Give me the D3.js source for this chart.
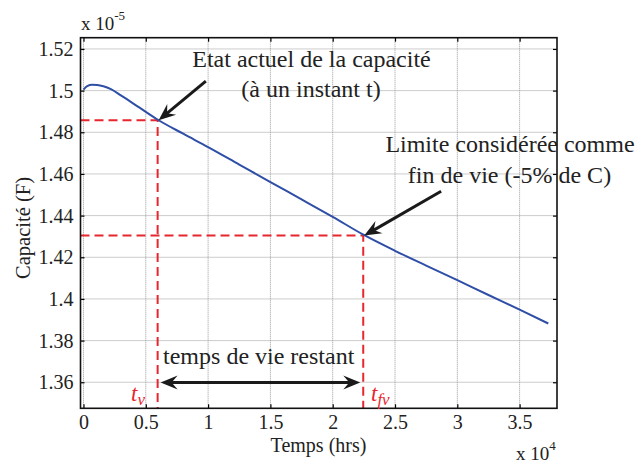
<!DOCTYPE html>
<html>
<head>
<meta charset="utf-8">
<script src="https://cdn.jsdelivr.net/npm/d3@7"></script>
<style>
  html, body { margin: 0; padding: 0; background: #fff; }
  svg { display: block; font-family: "Liberation Serif", "Times New Roman", serif; }
</style>
</head>
<body>
<svg id="chart" width="637" height="464"></svg>
<script>
// ---- data (time in 1e4 hrs, capacitance in 1e-5 F) ----
const timeHrs = [0, 0.03, 0.07, 0.11, 0.16, 0.22, 0.3, 0.45, 0.6, 0.8, 1.0, 1.25, 1.5, 1.75, 2.0, 2.25, 2.5, 2.75, 3.0, 3.25, 3.5, 3.73];
const capacitance = [1.5005, 1.5022, 1.5028, 1.5027, 1.5021, 1.5007, 1.4977, 1.4918, 1.4859, 1.4793, 1.4729, 1.4645, 1.4561, 1.4478, 1.4394, 1.4307, 1.4231, 1.4160, 1.4090, 1.4019, 1.3949, 1.3882];
const xTicks = [0, 0.5, 1, 1.5, 2, 2.5, 3, 3.5];
const xTickLabels = ["0", "0.5", "1", "1.5", "2", "2.5", "3", "3.5"];
const yTicks = [1.36, 1.38, 1.40, 1.42, 1.44, 1.46, 1.48, 1.50, 1.52];
const yTickLabels = ["1.36", "1.38", "1.4", "1.42", "1.44", "1.46", "1.48", "1.5", "1.52"];
const tv = [0.595, 1.4858];     // current state
const tfv = [2.245, 1.4304];    // end of life limit
const arrowCurrentTail = [0.982, 1.5046];
const arrowLimitTail = [2.87, 1.4517];
const remainingY = 1.3599;

const svg = d3.select("#chart");
const L = 80.5, R = 557, T = 37.7, B = 408.3;
const x = d3.scaleLinear().domain([-0.024, 3.80]).range([L, R]);
const y = d3.scaleLinear().domain([1.3475, 1.5254]).range([B, T]);
const font = '"Liberation Serif", "Times New Roman", serif';

// grid
const grid = svg.append("g");
grid.selectAll("line.gx").data(xTicks).join("line")
  .attr("x1", d => x(d)).attr("x2", d => x(d)).attr("y1", T).attr("y2", B)
  .attr("stroke", "#9a9a9a").attr("stroke-width", 1).attr("stroke-dasharray", "1,1");
grid.selectAll("line.gy").data(yTicks).join("line")
  .attr("y1", d => y(d)).attr("y2", d => y(d)).attr("x1", L).attr("x2", R)
  .attr("stroke", "#9a9a9a").attr("stroke-width", 1).attr("stroke-dasharray", "1,1");

// axes (ticks inside, MATLAB box)
const axB = d3.axisBottom(x).tickValues(xTicks).tickFormat((d, i) => xTickLabels[i]).tickSizeInner(-4).tickSizeOuter(0).tickPadding(7);
const axT = d3.axisTop(x).tickValues(xTicks).tickFormat("").tickSizeInner(-4).tickSizeOuter(0);
const axL = d3.axisLeft(y).tickValues(yTicks).tickFormat((d, i) => yTickLabels[i]).tickSizeInner(-4).tickSizeOuter(0).tickPadding(7);
const axR = d3.axisRight(y).tickValues(yTicks).tickFormat("").tickSizeInner(-4).tickSizeOuter(0);
function styleAxis(g) {
  g.select(".domain").remove();
  g.selectAll(".tick line").attr("stroke", "#000").attr("stroke-width", 1.2);
  g.selectAll(".tick text").attr("fill", "#222").style("font-family", font).style("font-size", "20px");
}
svg.append("g").attr("transform", `translate(0,${B})`).call(axB).call(styleAxis);
svg.append("g").attr("transform", `translate(0,${T})`).call(axT).call(styleAxis);
svg.append("g").attr("transform", `translate(${L},0)`).call(axL).call(styleAxis);
svg.append("g").attr("transform", `translate(${R},0)`).call(axR).call(styleAxis);

// red dashed guide lines
const red = "#e8262e";
[tv, tfv].forEach(p => {
  svg.append("path")
    .attr("d", `M${L},${y(p[1])}H${x(p[0])}V${B}`)
    .attr("fill", "none").attr("stroke", red).attr("stroke-width", 2).attr("stroke-dasharray", "9,5");
});

// curve
const line = d3.line().x((d, i) => x(timeHrs[i])).y(d => y(d)).curve(d3.curveMonotoneX);
svg.append("path").datum(capacitance).attr("d", line)
  .attr("fill", "none").attr("stroke", "#2f4ea6").attr("stroke-width", 2);

// frame
svg.append("rect").attr("x", L).attr("y", T).attr("width", R - L).attr("height", B - T)
  .attr("fill", "none").attr("stroke", "#111").attr("stroke-width", 1.6);

// arrows
function arrowHead(x1, y1, x2, y2) {
  const ang = Math.atan2(y2 - y1, x2 - x1);
  const len = 17, half = 7, notch = 11;
  const ux = Math.cos(ang), uy = Math.sin(ang);
  const bx = x2 - ux * len, by = y2 - uy * len;
  const nx = x2 - ux * notch, ny = y2 - uy * notch;
  const p1 = [bx - uy * half, by + ux * half];
  const p2 = [bx + uy * half, by - ux * half];
  return `M${x2},${y2}L${p1[0]},${p1[1]}L${nx},${ny}L${p2[0]},${p2[1]}Z`;
}
function arrow(a, b, both) {
  const [x1, y1] = a, [x2, y2] = b;
  const ang = Math.atan2(y2 - y1, x2 - x1);
  const ux = Math.cos(ang), uy = Math.sin(ang);
  const sx = both ? x1 + ux * 10 : x1, sy = both ? y1 + uy * 10 : y1;
  svg.append("line").attr("x1", sx).attr("y1", sy).attr("x2", x2 - ux * 10).attr("y2", y2 - uy * 10)
    .attr("stroke", "#1a1a1a").attr("stroke-width", 3);
  svg.append("path").attr("d", arrowHead(x1, y1, x2, y2)).attr("fill", "#1a1a1a");
  if (both) svg.append("path").attr("d", arrowHead(x2, y2, x1, y1)).attr("fill", "#1a1a1a");
}
arrow([x(arrowCurrentTail[0]), y(arrowCurrentTail[1])], [x(tv[0]) + 1, y(tv[1])], false);
arrow([x(arrowLimitTail[0]), y(arrowLimitTail[1])], [x(tfv[0]) + 1, y(tfv[1])], false);
arrow([x(tv[0]) + 3, y(remainingY)], [x(tfv[0]) - 3, y(remainingY)], true);

// texts
function txt(s, px, py, size, anchor) {
  return svg.append("text").attr("x", px).attr("y", py).attr("text-anchor", anchor || "middle")
    .style("font-family", font).style("font-size", size + "px").attr("fill", "#222").text(s);
}
txt("Etat actuel de la capacité", 311.5, 67, 24);
txt("(à un instant t)", 311, 97, 24);
txt("Limite considérée comme", 510, 152, 24);
txt("fin de vie (-5% de C)", 509.5, 183, 24);
txt("temps de vie restant", 258.7, 364, 24);

// red t labels
const tvl = svg.append("text").attr("x", 131).attr("y", 401).style("font-family", font)
  .style("font-style", "italic").style("font-size", "23px").attr("fill", red);
tvl.append("tspan").text("t");
tvl.append("tspan").attr("dy", 4).style("font-size", "17px").text("v");
const tfl = svg.append("text").attr("x", 371).attr("y", 401).style("font-family", font)
  .style("font-style", "italic").style("font-size", "23px").attr("fill", red);
tfl.append("tspan").text("t");
tfl.append("tspan").attr("dy", 4).style("font-size", "17px").text("fv");

// axis labels
txt("Temps (hrs)", 318.5, 452, 20);
svg.append("text").attr("transform", "translate(30,228) rotate(-90)").attr("text-anchor", "middle")
  .style("font-family", font).style("font-size", "20.5px").attr("fill", "#222").text("Capacité (F)");

// multipliers
const m1 = svg.append("text").attr("x", 81).attr("y", 30).style("font-family", font).style("font-size", "19px").attr("fill", "#222");
m1.append("tspan").text("x 10");
m1.append("tspan").attr("dy", -10).style("font-size", "13px").text("-5");
const m2 = svg.append("text").attr("x", 516).attr("y", 460).style("font-family", font).style("font-size", "19px").attr("fill", "#222");
m2.append("tspan").text("x 10");
m2.append("tspan").attr("dy", -10).style("font-size", "13px").text("4");
</script>
</body>
</html>
